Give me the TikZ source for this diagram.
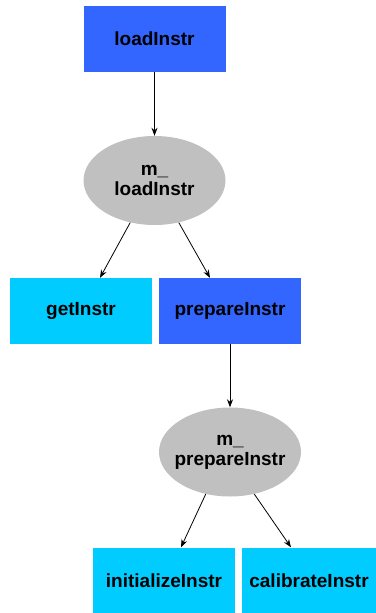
\documentclass[tikz,border=0pt]{standalone}
\usepackage{fontspec}
\setmainfont{Liberation Sans}
\usetikzlibrary{shapes.geometric,arrows.meta,calc}
\definecolor{fnblue}{HTML}{3366FF}
\definecolor{fncyan}{HTML}{00CCFF}
\definecolor{fngray}{HTML}{C0C0C0}
\begin{document}
\begin{tikzpicture}[x=1pt,y=-1pt,
  box/.style={rectangle,minimum width=142pt,minimum height=66pt,inner sep=0pt,font=\fontsize{19}{20}\selectfont\bfseries},
  bluebox/.style={box,fill=fnblue},
  cyanbox/.style={box,fill=fncyan},
  ell/.style={ellipse,fill=fngray,minimum width=142pt,minimum height=89pt,inner sep=0pt},
  elltext/.style={label={[align=center,font=\fontsize{19}{20}\selectfont\bfseries]center:#1}},
  edge/.style={-{Stealth[length=8pt,width=6pt]},line width=0.8pt}]
\useasboundingbox (0,0) rectangle (375,613);
\node[bluebox] (load) at (154.5,39) {loadInstr};
\node[ell,elltext={m\_\\loadInstr}] (mload) at (154.5,180.5) {};
\node[cyanbox] (get) at (81,311) {getInstr};
\node[bluebox] (prep) at (230,311) {prepareInstr};
\node[ell,elltext={m\_\\prepareInstr}] (mprep) at (230,452) {};
\node[cyanbox] (init) at (164,580.5) {initializeInstr};
\node[cyanbox, minimum width=134pt] (cal) at (309,580.5) {calibrateInstr};
\draw[edge] (load.south) -- (mload.north);
\draw[edge] (mload.240) -- ($(get.north)+(19,0)$);
\draw[edge] (mload.300) -- ($(prep.north)+(-20,0)$);
\draw[edge] (prep.south) -- (mprep.north);
\draw[edge] (mprep.240) -- ($(init.north)+(17,0)$);
\draw[edge] (mprep.300) -- ($(cal.north)+(-18,0)$);
\end{tikzpicture}
\end{document}
